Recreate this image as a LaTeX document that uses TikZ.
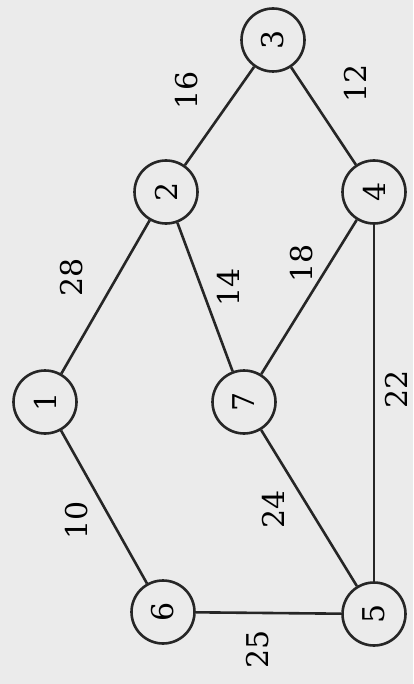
\documentclass[tikz,border=0pt]{standalone}
\usepackage{fontspec}
\setmainfont{DejaVu Serif}
\begin{document}
\begin{tikzpicture}[x=1pt,y=-1pt,
  vtx/.style={circle,draw=black!85,line width=2.6pt,minimum size=63pt,inner sep=0pt,font=\fontsize{30}{30}\selectfont,rotate=90},
  wt/.style={font=\fontsize{30}{30}\selectfont,rotate=90,inner sep=0pt},
  edge/.style={draw=black!85,line width=2.6pt}]
\fill[black!8] (0,0) rectangle (413,684);
\useasboundingbox (0,0) rectangle (413,684);
\node[vtx] (n1) at (45,402) {1};
\node[vtx] (n2) at (166,192) {2};
\node[vtx] (n3) at (273,40) {3};
\node[vtx] (n4) at (374,192) {4};
\node[vtx] (n5) at (374,614) {5};
\node[vtx] (n6) at (163,612) {6};
\node[vtx] (n7) at (244,402) {7};
\path[edge] (n1) -- (n2);
\path[edge] (n2) -- (n3);
\path[edge] (n3) -- (n4);
\path[edge] (n2) -- (n7);
\path[edge] (n7) -- (n4);
\path[edge] (n4) -- (n5);
\path[edge] (n1) -- (n6);
\path[edge] (n7) -- (n5);
\path[edge] (n6) -- (n5);
\node[wt] (w16) at (187,90) {16};
\node[wt] (w12) at (355,83) {12};
\node[wt] (w28) at (72,277) {28};
\node[wt] (w14) at (228,287) {14};
\node[wt] (w18) at (302,263) {18};
\node[wt] (w22) at (396,389) {22};
\node[wt] (w10) at (77,520) {10};
\node[wt] (w24) at (273,509) {24};
\node[wt] (w25) at (258,649) {25};
\end{tikzpicture}
\end{document}
